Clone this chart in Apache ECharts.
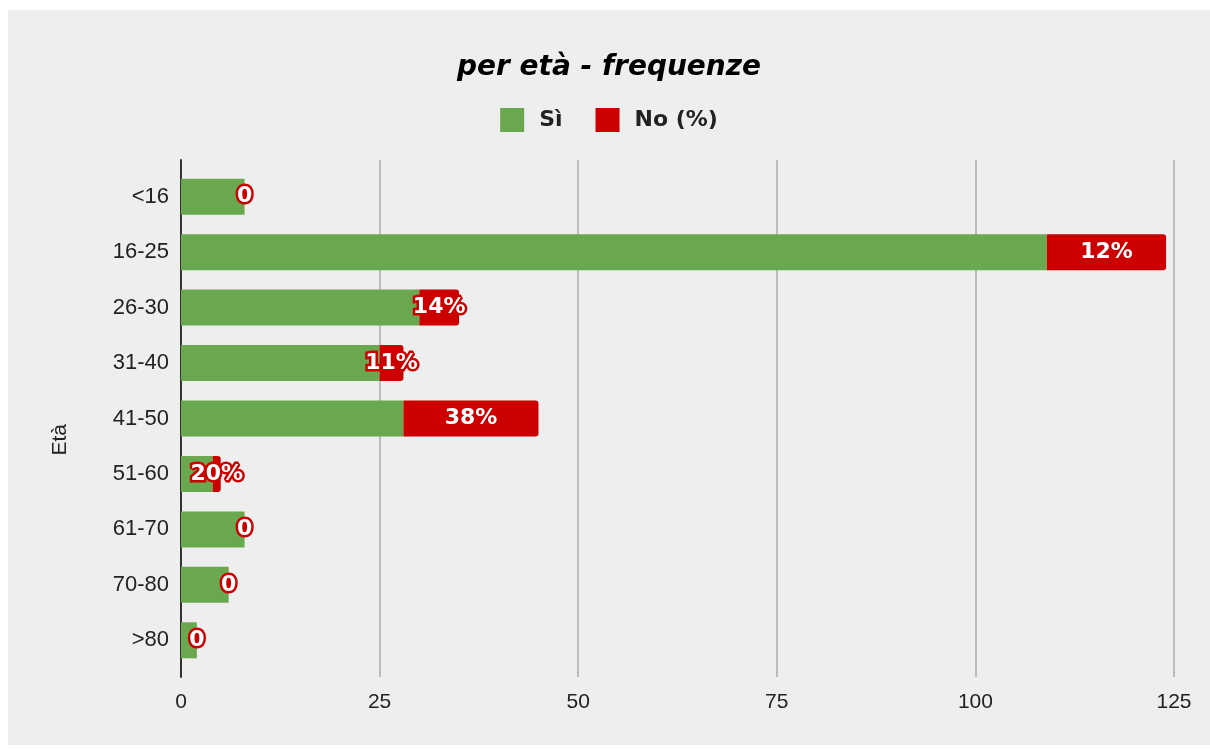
<!DOCTYPE html>
<html lang="it">
<head>
    <meta charset="UTF-8">
    <title>per età - frequenze</title>
    <style>
        html, body { margin: 0; padding: 0; background: #ffffff; }
        #chart { position: absolute; left: 8px; top: 10px; width: 1202px; height: 735px; background: #eeeeee; }
    </style>
</head>
<body>
<div id="chart"></div>
<script src="https://cdn.jsdelivr.net/npm/echarts@6/dist/echarts.min.js"></script>
<script>
    /* fasce di età */
    var categorie = ['<16', '16-25', '26-30', '31-40', '41-50', '51-60', '61-70', '70-80', '>80'];
    /* risposte Sì */
    var si = [8, 109, 30, 25, 28, 4, 8, 6, 2];
    /* risposte No */
    var no = [0, 15, 5, 3, 17, 1, 0, 0, 0];
    var xTicks = [0, 25, 50, 75, 100, 125];

    var chart = echarts.init(document.getElementById('chart'));
    var font = '"Liberation Sans", Arial, sans-serif';
    var heavy = '"DejaVu Sans", sans-serif';

    var option = {
        backgroundColor: '#eeeeee',
        title: {
            text: 'per età - frequenze',
            left: 'center',
            top: 39,
            textStyle: {
                fontFamily: heavy,
                fontWeight: 900,
                fontStyle: 'italic',
                fontSize: 28,
                color: '#000'
            }
        },
        legend: {
            top: 93,
            left: 'center',
            itemWidth: 24,
            itemHeight: 24,
            itemGap: 33,
            icon: 'rect',
            textStyle: {
                fontFamily: heavy,
                fontWeight: 'bold',
                fontSize: 22,
                color: '#222',
                padding: [0, 0, 0, 10]
            },
            data: ['Sì', 'No (%)']
        },
        /* grid 0: griglia e assi (più alta), grid 1: barre */
        grid: [
            { left: 173, right: 36, top: 150, bottom: 68 },
            { left: 173, right: 36, top: 159, bottom: 77 }
        ],
        graphic: [{
            type: 'text',
            left: 42,
            top: 414,
            rotation: Math.PI / 2,
            style: { text: 'Età', font: '21px "Liberation Sans", Arial, sans-serif', fill: '#222' }
        }],
        xAxis: [
            {
                gridIndex: 0,
                type: 'value',
                min: 0,
                max: 125,
                interval: 25,
                axisLine: { show: false },
                axisTick: { show: false },
                splitLine: { show: true, lineStyle: { color: '#bbbbbb', width: 2 } },
                axisLabel: {
                    margin: 15,
                    fontFamily: font,
                    fontSize: 21,
                    color: '#222',
                    formatter: function (v) { return xTicks.indexOf(v) >= 0 ? v : ''; }
                }
            },
            {
                gridIndex: 1,
                type: 'value',
                min: 0,
                max: 125,
                show: false
            }
        ],
        yAxis: [
            {
                gridIndex: 0,
                type: 'value',
                min: 0,
                max: 1,
                axisLine: { show: true, lineStyle: { color: '#333', width: 2 } },
                axisTick: { show: false },
                axisLabel: { show: false },
                splitLine: { show: false }
            },
            {
                gridIndex: 1,
                type: 'category',
                inverse: true,
                data: categorie,
                axisLine: { show: false },
                axisTick: { show: false },
                axisLabel: { margin: 12, fontFamily: font, fontSize: 22, color: '#222' }
            }
        ],
        series: [
            {
                name: 'Sì',
                type: 'bar',
                xAxisIndex: 1,
                yAxisIndex: 1,
                stack: 'tot',
                barWidth: 36,
                itemStyle: { color: '#6aa84f' },
                data: si
            },
            {
                name: 'No (%)',
                type: 'bar',
                xAxisIndex: 1,
                yAxisIndex: 1,
                stack: 'tot',
                barWidth: 36,
                itemStyle: { color: '#cc0000', borderRadius: [0, 3, 3, 0] },
                label: {
                    show: true,
                    position: 'inside',
                    fontFamily: heavy,
                    fontWeight: 'bold',
                    fontSize: 22,
                    color: '#fff',
                    textBorderColor: '#cc0000',
                    textBorderWidth: 5,
                    formatter: function (p) {
                        var i = p.dataIndex;
                        if (no[i] === 0) return '0';
                        return Math.round(no[i] / (si[i] + no[i]) * 100) + '%';
                    }
                },
                labelLayout: { hideOverlap: false },
                data: no
            }
        ]
    };
    chart.setOption(option);
</script>
</body>
</html>
